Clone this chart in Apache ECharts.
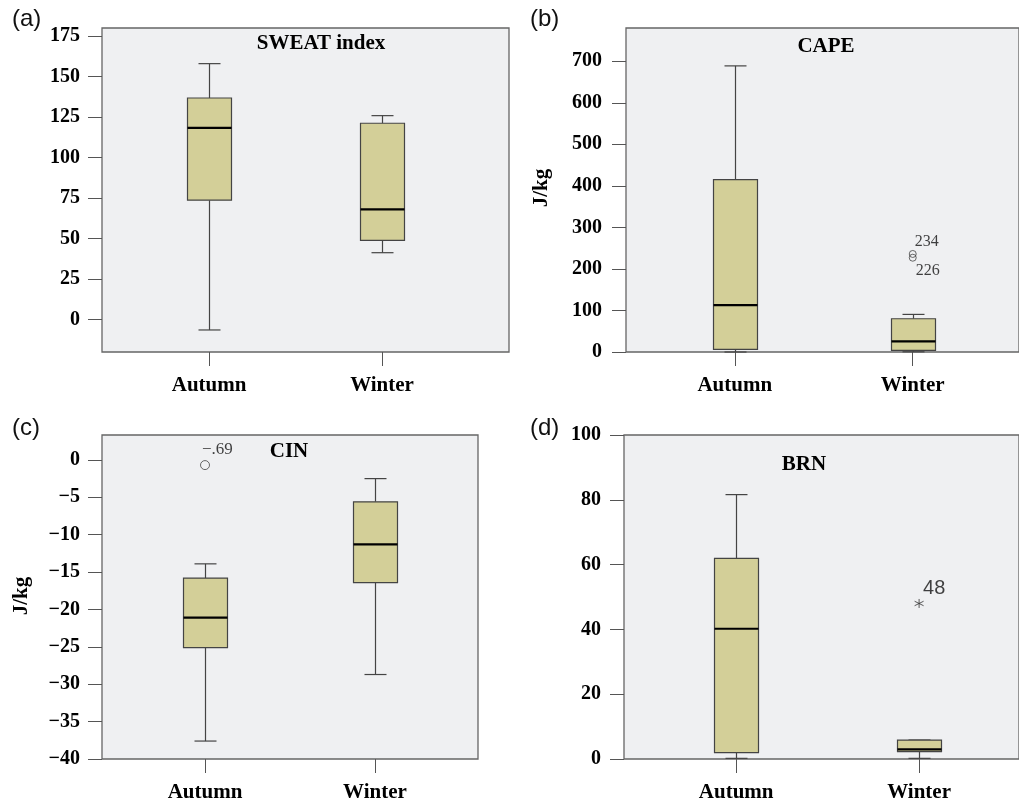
<!DOCTYPE html>
<html><head><meta charset="utf-8">
<script src="https://cdn.jsdelivr.net/npm/echarts@6/dist/echarts.min.js"></script>
<style>html,body{margin:0;padding:0;background:#fff}#c{width:1019px;height:803px}</style>
</head><body><div id="c"></div>
<script>
// ---------- data ----------
const categories = ['Autumn', 'Winter'];
// each box: [min, Q1, median, Q3, max]
const sweatBoxes = [[-6.4, 73.7, 118.3, 136.8, 158], [41.3, 48.9, 68, 121.2, 125.9]];
const capeBoxes = [[0, 6.4, 112.9, 414.9, 688.8], [0.5, 4, 25.6, 80, 90.5]];
const cinBoxes = [[-37.6, -25.1, -21.1, -15.8, -13.9], [-28.7, -16.4, -11.3, -5.6, -2.5]];
const brnBoxes = [[0.2, 1.95, 40.2, 61.9, 81.6], [0.2, 2.3, 3.0, 5.85, 5.85]];
const capeOutliers = [[1, 236], [1, 227]];
const capeOutlierLabels = ['234', '226'];
const cinOutliers = [[0, -0.69]];
const cinOutlierLabels = ['\u2212.69'];
const brnOutliers = [[1, 48]];
const brnOutlierLabels = ['48'];
const sweatTicks = [0, 25, 50, 75, 100, 125, 150, 175];
const capeTicks = [0, 100, 200, 300, 400, 500, 600, 700];
const cinTicks = [-40, -35, -30, -25, -20, -15, -10, -5, 0];
const brnTicks = [0, 20, 40, 60, 80, 100];
const panelTitles = ['SWEAT index', 'CAPE', 'CIN', 'BRN'];
const panelLetters = ['(a)', '(b)', '(c)', '(d)'];
const unitLabel = 'J/kg';

// ---------- styling / layout ----------
const SERIF = '"Liberation Serif", "Times New Roman", serif';
const SANS = '"Liberation Sans", Arial, sans-serif';
const BOX_FILL = '#d3cf98';
const LINE = '#444';

const grids = [
  { left: 102, top: 28, width: 407, height: 324 },
  { left: 626, top: 28, width: 393, height: 324 },
  { left: 102, top: 435, width: 376, height: 325 },
  { left: 624, top: 435, width: 395, height: 325 }
];
const xRanges = [[-0.619, 1.734], [-0.611, 1.597], [-0.606, 1.606], [-0.613, 1.546]];
const yRanges = [[-20, 180], [0, 780], [-40, 3.333], [0, 100]];
const yTicks = [sweatTicks, capeTicks, cinTicks, brnTicks];
const yMargins = [22, 24, 22, 23];

function fmtNum(v) { return v < 0 ? '\u2212' + Math.abs(v) : String(v); }

const xAxes = grids.map((g, i) => ({
  type: 'value', gridIndex: i, min: xRanges[i][0], max: xRanges[i][1], position: 'bottom',
  axisLine: { show: false, onZero: false }, splitLine: { show: false },
  axisTick: { show: true, length: 14, customValues: [0, 1], lineStyle: { color: '#555' } },
  axisLabel: {
    customValues: [0, 1], margin: 23, color: '#000',
    fontFamily: SERIF, fontWeight: 'bold', fontSize: 21,
    formatter: v => categories[Math.round(v)]
  }
}));
const yAxes = grids.map((g, i) => ({
  type: 'value', gridIndex: i, min: yRanges[i][0], max: yRanges[i][1], position: 'left',
  axisLine: { show: false, onZero: false }, splitLine: { show: false },
  axisTick: { show: true, length: 14, customValues: yTicks[i], lineStyle: { color: '#555' } },
  axisLabel: {
    customValues: yTicks[i], margin: yMargins[i], color: '#000',
    fontFamily: SERIF, fontWeight: 'bold', fontSize: 20,
    formatter: fmtNum
  }
}));

function renderBox(params, api) {
  const x = api.value(0);
  const v = [1, 2, 3, 4, 5].map(k => api.value(k));
  const p = v.map(val => api.coord([x, val]));
  const cx = Math.round(p[0][0]) + 0.5;
  const hw = 22, cw = 11;
  const st = { stroke: LINE, lineWidth: 1.2 };
  return {
    type: 'group',
    children: [
      { type: 'line', shape: { x1: cx, y1: p[4][1], x2: cx, y2: p[3][1] }, style: st },
      { type: 'line', shape: { x1: cx, y1: p[1][1], x2: cx, y2: p[0][1] }, style: st },
      { type: 'line', shape: { x1: cx - cw, y1: p[4][1], x2: cx + cw, y2: p[4][1] }, style: st },
      { type: 'line', shape: { x1: cx - cw, y1: p[0][1], x2: cx + cw, y2: p[0][1] }, style: st },
      { type: 'rect', shape: { x: cx - hw, y: p[3][1], width: 2 * hw, height: p[1][1] - p[3][1] },
        style: { fill: BOX_FILL, stroke: LINE, lineWidth: 1.2 } },
      { type: 'line', shape: { x1: cx - hw, y1: p[2][1], x2: cx + hw, y2: p[2][1] },
        style: { stroke: '#000', lineWidth: 2.2 } }
    ]
  };
}

const allBoxes = [sweatBoxes, capeBoxes, cinBoxes, brnBoxes];
const series = allBoxes.map((boxes, i) => ({
  type: 'custom', xAxisIndex: i, yAxisIndex: i,
  renderItem: renderBox,
  encode: { x: 0, y: [1, 2, 3, 4, 5] },
  data: boxes.map((b, k) => [k].concat(b)),
  z: 2, silent: true
}));

const outLabelStyle = { show: true, position: 'inside', align: 'left', verticalAlign: 'middle', color: '#111' };
const capeOffsets = [[2, -12], [3, 13]];
series.push({
  type: 'scatter', xAxisIndex: 1, yAxisIndex: 1, symbol: 'circle', symbolSize: 7, z: 3,
  itemStyle: { color: 'rgba(0,0,0,0)', borderColor: '#444', borderWidth: 1 },
  data: capeOutliers.map((p, k) => ({ value: p, label: Object.assign({}, outLabelStyle, {
    formatter: capeOutlierLabels[k], offset: capeOffsets[k], fontFamily: SERIF, fontSize: 16 }) }))
});
series.push({
  type: 'scatter', xAxisIndex: 2, yAxisIndex: 2, symbol: 'circle', symbolSize: 9, z: 3,
  itemStyle: { color: 'rgba(0,0,0,0)', borderColor: '#444', borderWidth: 1 },
  data: cinOutliers.map((p, k) => ({ value: p, label: Object.assign({}, outLabelStyle, {
    formatter: cinOutlierLabels[k], offset: [-3, -16], fontFamily: SERIF, fontSize: 17 }) }))
});
series.push({
  type: 'scatter', xAxisIndex: 3, yAxisIndex: 3, z: 3,
  symbol: 'path://M5 0L5 10M0.67 2.5L9.33 7.5M0.67 7.5L9.33 2.5', symbolSize: 9,
  itemStyle: { color: 'rgba(0,0,0,0)', borderColor: '#333', borderWidth: 1 },
  data: brnOutliers.map((p, k) => ({ value: p, label: Object.assign({}, outLabelStyle, {
    formatter: brnOutlierLabels[k], offset: [4, -15], fontFamily: SANS, fontSize: 20 }) }))
});

const letterPos = [[12, 19], [530, 19], [12, 428], [530, 428]];
const titlePos = [[321, 44], [826, 47], [289, 452], [804, 465]];
const graphics = [];
panelLetters.forEach((t, i) => graphics.push({
  type: 'text', x: letterPos[i][0], y: letterPos[i][1],
  style: { text: t, font: '24px ' + SANS, fill: '#111', textAlign: 'left', textVerticalAlign: 'middle' }
}));
panelTitles.forEach((t, i) => graphics.push({
  type: 'text', x: titlePos[i][0], y: titlePos[i][1], z: 10,
  style: { text: t, font: 'bold 21px ' + SERIF, fill: '#000', textAlign: 'center', textVerticalAlign: 'middle' }
}));
[[542, 188], [22, 596]].forEach(pt => graphics.push({
  type: 'text', x: pt[0], y: pt[1], rotation: Math.PI / 2,
  style: { text: unitLabel, font: 'bold 21px ' + SERIF, fill: '#000', textAlign: 'center', textVerticalAlign: 'middle' }
}));

const chart = echarts.init(document.getElementById('c'), null, { renderer: 'canvas' });
chart.setOption({
  backgroundColor: '#fff',
  animation: false,
  grid: grids.map(g => Object.assign({ show: true, backgroundColor: '#eff0f2', borderColor: '#666', borderWidth: 1.3 }, g)),
  xAxis: xAxes,
  yAxis: yAxes,
  series: series,
  graphic: graphics
});
</script>
</body></html>
